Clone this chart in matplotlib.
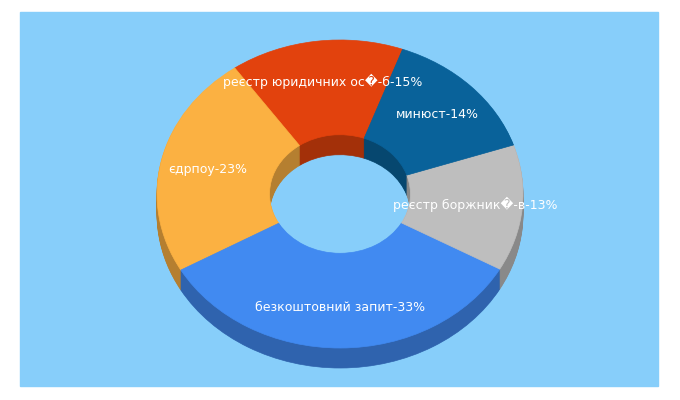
import matplotlib
matplotlib.use("Agg")
import matplotlib.pyplot as plt
from matplotlib.patches import Wedge, Rectangle
from matplotlib.transforms import Affine2D
import numpy as np

labels = ["реєстр юридичних ос\ufffd-б", "єдрпоу", "безкоштовний запит", "реєстр боржник\ufffd-в", "минюст"]
values = [15, 23, 33, 13, 14]
colors = ["#E2420D", "#FBB142", "#418AF1", "#BEBEBE", "#09629A"]
start = 70.0

W, H = 680, 400
fig = plt.figure(figsize=(6.8, 4.0), dpi=100)
ax = fig.add_axes([0, 0, 1, 1])
ax.set_xlim(0, W); ax.set_ylim(H, 0); ax.axis("off")
ax.add_patch(Rectangle((20, 12), 638, 374, color="#87CEFA", zorder=0))

cx, cy, rx, ry = 340, 194, 183, 154
hole = 0.385
depth = 20
scale = ry / rx

def darker(c, f):
    r, g, b = matplotlib.colors.to_rgb(c)
    return (r * f, g * f, b * f)

total = sum(values)
angles = []
a = start
for v in values:
    span = 360 * v / total
    angles.append((a, a + span))
    a += span

def draw(offset, shade, z):
    tr = Affine2D().scale(1, -scale).translate(cx, cy + offset) + ax.transData
    for (a0, a1), c in zip(angles, colors):
        col = darker(c, shade) if shade < 1 else c
        w = Wedge((0, 0), rx, a0, a1, width=rx * (1 - hole), facecolor=col,
                  edgecolor=col, linewidth=0.5, transform=tr, zorder=z)
        ax.add_patch(w)

for d in range(depth, 0, -1):
    draw(d, 0.72, 1)
draw(0, 1, 2)

for (a0, a1), lab, v in zip(angles, labels, values):
    m = np.deg2rad((a0 + a1) / 2)
    x = cx + 0.74 * rx * np.cos(m)
    y = cy - 0.74 * ry * np.sin(m)
    ax.text(x, y, f"{lab}-{v}%", color="white", fontsize=9,
            ha="center", va="center", zorder=3, family="DejaVu Sans")

fig.savefig("out.png", dpi=100)
